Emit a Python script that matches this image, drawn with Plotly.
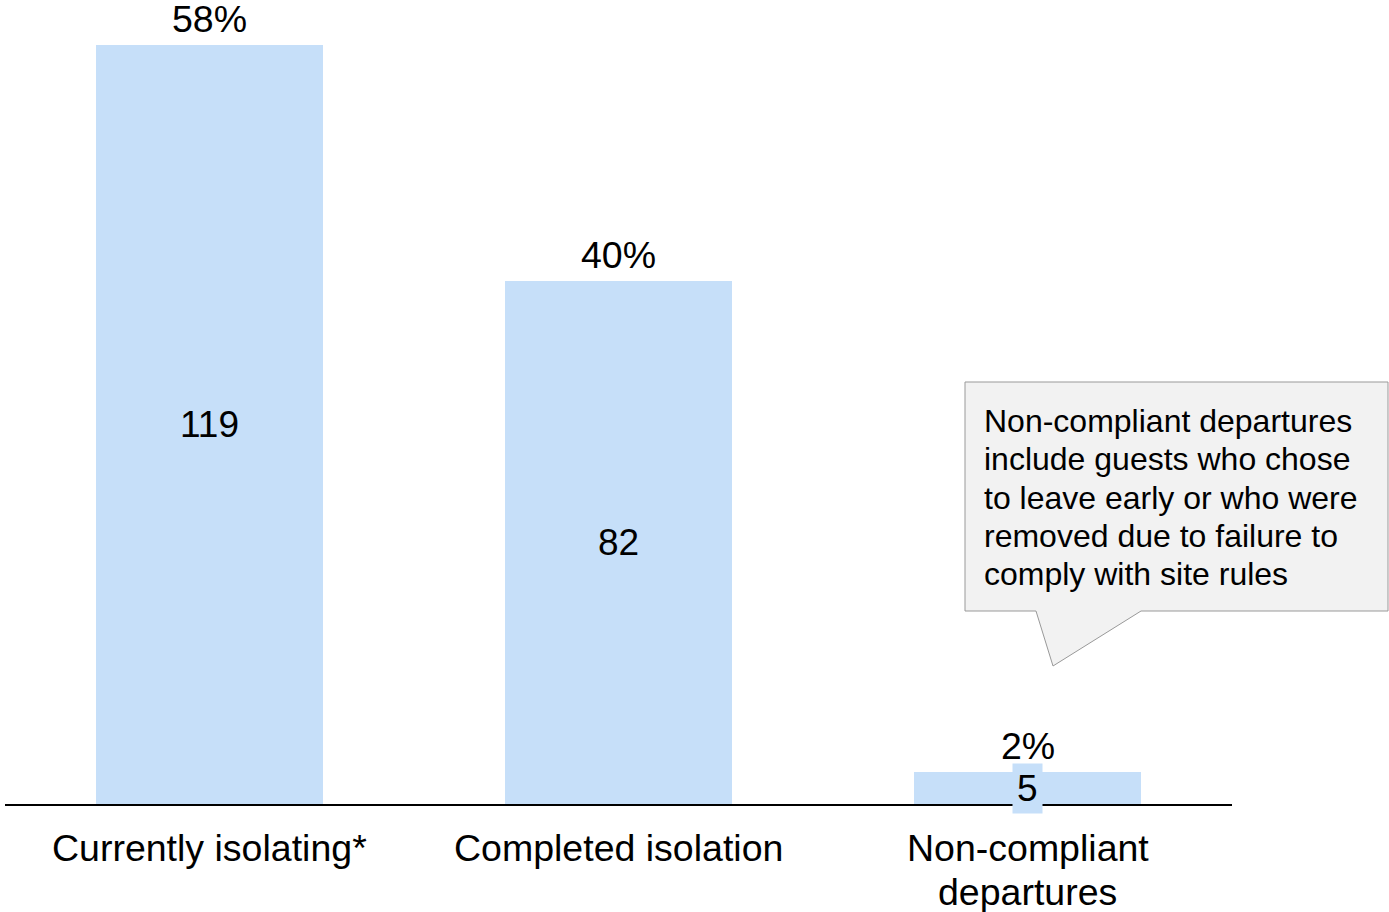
import plotly.graph_objects as go

categories = ["Currently isolating*", "Completed isolation", "Non-compliant<br>departures"]
counts = [119, 82, 5]
percents = ["58%", "40%", "2%"]
callout_lines = [
    "Non-compliant departures",
    "include guests who chose",
    "to leave early or who were",
    "removed due to failure to",
    "comply with site rules",
]

BAR = "#c6dff9"
FONT = "Liberation Sans, Arial, sans-serif"

W, H = 1389, 912
L, R, T, B = 5, 157, 45, 108
PW, PH = W - L - R, H - T - B


def px(x):
    return (x - L) / PW


def py(y):
    return (H - B - y) / PH


fig = go.Figure()
fig.add_trace(go.Bar(x=categories, y=counts, marker=dict(color=BAR, line=dict(width=0)),
                     width=0.555, hoverinfo="skip"))

ann = []
for c, v, p in zip(categories, counts, percents):
    ann.append(dict(x=c, y=v / 2, text=str(v), showarrow=False, xanchor="center", yanchor="middle",
                    font=dict(size=37, color="black", family=FONT), bgcolor=BAR, borderpad=4))
    ann.append(dict(x=c, y=v, text=p, showarrow=False, xanchor="center", yanchor="bottom", yshift=3,
                    font=dict(size=37.5, color="black", family=FONT)))
    for i, line in enumerate(c.split("<br>")):
        ann.append(dict(x=c, y=0, text=line, showarrow=False, xanchor="center", yanchor="middle",
                        yshift=-44 - 44 * i, font=dict(size=37.5, color="black", family=FONT)))

for i, line in enumerate(callout_lines):
    ann.append(dict(x=px(982), y=py(421 + 38.25 * i), xref="paper", yref="paper", text=line,
                    showarrow=False, xanchor="left", yanchor="middle",
                    font=dict(size=32, color="black", family=FONT)))

pts = [(965, 382), (1388, 382), (1388, 611), (1141, 611), (1053, 666), (1036, 611), (965, 611)]
path = "M " + " L ".join(f"{px(x):.5f},{py(y):.5f}" for x, y in pts) + " Z"

fig.update_layout(
    width=W, height=H,
    margin=dict(l=L, r=R, t=T, b=B),
    plot_bgcolor="white", paper_bgcolor="white",
    showlegend=False,
    xaxis=dict(showline=True, linecolor="black", linewidth=2, showticklabels=False,
               showgrid=False, zeroline=False, ticks=""),
    yaxis=dict(range=[0, 119], visible=False, showgrid=False, zeroline=False),
    annotations=ann,
    shapes=[dict(type="path", path=path, xref="paper", yref="paper",
                 fillcolor="#f2f2f2", line=dict(color="#999999", width=1), layer="above")],
)
fig.write_html("out.html", config={"displayModeBar": False},
               post_script="document.body.style.margin='0';document.body.style.overflow='hidden';")
